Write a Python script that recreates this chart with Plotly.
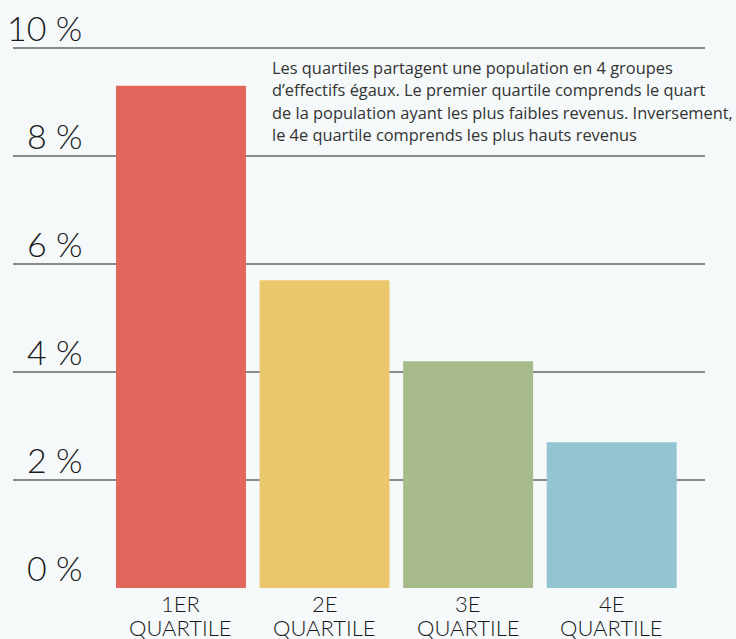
import plotly.graph_objects as go

categories = ["1er quartile", "2e quartile", "3e quartile", "4e quartile"]
label_line1 = ["1ER", "2E", "3E", "4E"]
label_line2 = ["QUARTILE", "QUARTILE", "QUARTILE", "QUARTILE"]
values = [9.3, 5.7, 4.2, 2.7]
colors = ["#e2665c", "#ebc76b", "#a6ba8a", "#92c4d2"]
y_ticks = [0, 2, 4, 6, 8, 10]
y_tick_labels = ["0 %", "2 %", "4 %", "6 %", "8 %", "10 %"]
note_lines = [
    "Les quartiles partagent une population en 4 groupes",
    "d’effectifs égaux. Le premier quartile comprends le quart",
    "de la population ayant les plus faibles revenus. Inversement,",
    "le 4e quartile comprends les plus hauts revenus",
]

W, H = 736, 639
ml, mr, mt, mb = 13, 31, 47, 51
pw = W - ml - mr
ph = H - mt - mb
bottom_px = H - mb


def px_x(px):
    return (px - ml) / pw


def px_y(py):
    return (bottom_px - py) / ph


fig = go.Figure()
fig.add_trace(go.Bar(x=categories, y=values, marker=dict(color=colors, line=dict(width=0)),
                     hoverinfo="skip"))

light_family = "Lato"
text_family = "Open Sans"
annotations = []
for v, t in zip(y_ticks, y_tick_labels):
    annotations.append(dict(x=px_x(84), xref="paper", y=v, yref="y",
                            xanchor="right", yanchor="bottom", text=t, showarrow=False,
                            font=dict(family=light_family, size=34, color="#1a1a1a", weight=300),
                            yshift=-2))
for c, l1, l2 in zip(categories, label_line1, label_line2):
    annotations.append(dict(x=c, xref="x", y=px_y(618.5), yref="paper", xanchor="center",
                            yanchor="bottom", text=l1, showarrow=False,
                            font=dict(family=light_family, size=22, color="#1a1a1a", weight=300)))
    annotations.append(dict(x=c, xref="x", y=px_y(643), yref="paper", xanchor="center",
                            yanchor="bottom", text=l2, showarrow=False,
                            font=dict(family=light_family, size=22, color="#1a1a1a", weight=300)))
for i, line in enumerate(note_lines):
    baseline = 76 + i * 22.3
    annotations.append(dict(x=px_x(270), xref="paper", y=px_y(baseline + 5), yref="paper",
                            xanchor="left", yanchor="bottom", align="left", text=line,
                            showarrow=False,
                            font=dict(family=text_family, size=16.4, color="#333333")))

fig.update_layout(
    width=W, height=H,
    margin=dict(l=ml, r=mr, t=mt, b=mb),
    paper_bgcolor="#f5f9fa", plot_bgcolor="#f5f9fa",
    bargap=0.095,
    showlegend=False,
    annotations=annotations,
    xaxis=dict(type="category", range=[-1.17, 3.65], showgrid=False, zeroline=False,
               showline=False, ticks="", showticklabels=False, automargin=False,
               fixedrange=True),
    yaxis=dict(range=[0, 10.02], tickvals=y_ticks, showticklabels=False, showgrid=True,
               gridcolor="#8a8a8a", gridwidth=1.5, zeroline=False, showline=False,
               fixedrange=True, automargin=False),
)

fig.write_html("out.html", config={"displayModeBar": False},
               post_script="document.body.style.margin='0';document.body.style.overflow='hidden';document.body.style.background='#f5f9fa';")
